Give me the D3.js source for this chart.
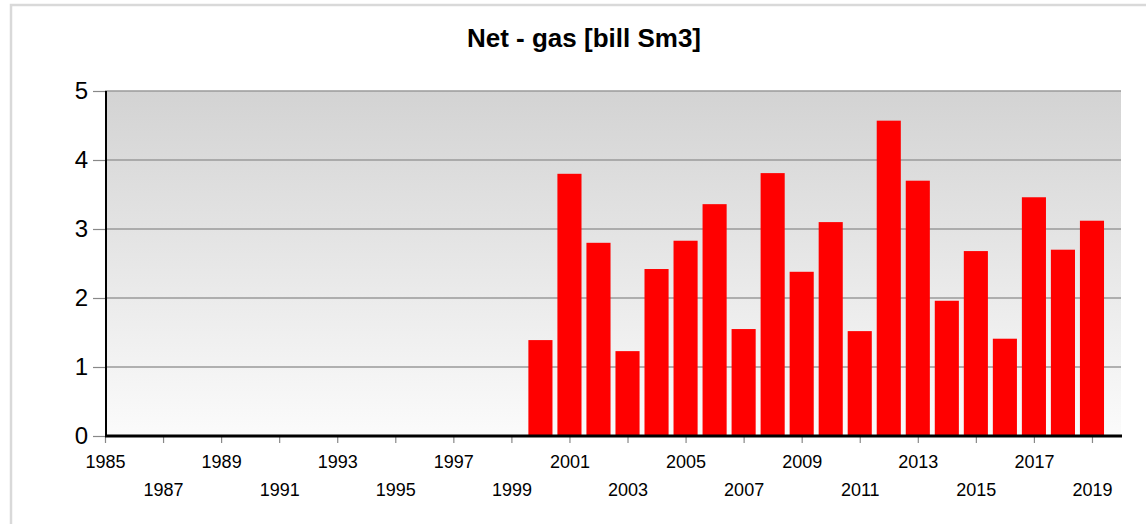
<!DOCTYPE html>
<html>
<head>
<meta charset="utf-8">
<script src="https://cdn.jsdelivr.net/npm/d3@7"></script>
<style>
  html, body { margin: 0; padding: 0; background: #fff; }
  svg { display: block; font-family: Arial, "Liberation Sans", sans-serif; }
</style>
</head>
<body>
<div id="chart"></div>
<script>
document.addEventListener('DOMContentLoaded', () => {
  const years = [2000, 2001, 2002, 2003, 2004, 2005, 2006, 2007, 2008, 2009,
                 2010, 2011, 2012, 2013, 2014, 2015, 2016, 2017, 2018, 2019];
  const netGas = [1.39, 3.80, 2.80, 1.23, 2.42, 2.83, 3.36, 1.55, 3.81, 2.38,
                  3.10, 1.52, 4.57, 3.70, 1.96, 2.68, 1.41, 3.46, 2.70, 3.12];
  const yTicks = [0, 1, 2, 3, 4, 5];
  const xTicks = d3.range(1985, 2020, 2);

  const width = 1146, height = 524;
  const left = 105, right = 1121, top = 91, bottom = 436;

  const svg = d3.select('#chart').append('svg')
    .attr('width', width).attr('height', height);

  // outer frame (only top/left visible)
  svg.append('path')
    .attr('d', `M11,${height} V5 H${width}`)
    .attr('fill', 'none').attr('stroke', '#d9d9d9').attr('stroke-width', 2.5);

  const grad = svg.append('defs').append('linearGradient')
    .attr('id', 'bg').attr('x1', 0).attr('y1', 0).attr('x2', 0).attr('y2', 1);
  grad.append('stop').attr('offset', '0%').attr('stop-color', '#d3d3d3');
  grad.append('stop').attr('offset', '100%').attr('stop-color', '#fbfbfb');

  const x = d3.scaleLinear().domain([1985, 2020]).range([left, right]);
  const y = d3.scaleLinear().domain([0, 5]).range([bottom, top]);
  const step = x(1986) - x(1985);
  const barW = step * 0.83;

  svg.append('rect')
    .attr('x', left).attr('y', top)
    .attr('width', right - left).attr('height', bottom - top)
    .attr('fill', 'url(#bg)');

  // gridlines
  svg.append('g').selectAll('line')
    .data(yTicks.filter(d => d > 0))
    .enter().append('line')
    .attr('x1', left).attr('x2', right)
    .attr('y1', d => y(d)).attr('y2', d => y(d))
    .attr('stroke', '#9a9a9a').attr('stroke-width', 1.5);

  // bars
  svg.append('g').selectAll('rect')
    .data(years.map((yr, i) => ({ yr, v: netGas[i] })))
    .enter().append('rect')
    .attr('x', d => x(d.yr) - barW / 2)
    .attr('y', d => y(d.v))
    .attr('width', barW)
    .attr('height', d => y(0) - y(d.v))
    .attr('fill', '#ff0000');

  // y axis
  const yAxis = svg.append('g')
    .attr('transform', `translate(${left},0)`)
    .call(d3.axisLeft(y).tickValues(yTicks).tickSize(12).tickPadding(5).tickFormat(d3.format('d')));
  yAxis.select('.domain').remove();
  yAxis.selectAll('.tick line').attr('stroke', '#888').attr('stroke-width', 1.2);
  yAxis.selectAll('.tick text')
    .style('font-size', '24px').style('font-family', 'Arial, "Liberation Sans", sans-serif')
    .attr('fill', '#000');

  // x axis
  const xAxis = svg.append('g')
    .attr('transform', `translate(0,${bottom})`)
    .call(d3.axisBottom(x).tickValues(xTicks).tickSize(7).tickFormat(d3.format('d')));
  xAxis.select('.domain').remove();
  xAxis.selectAll('.tick line').attr('stroke', '#888').attr('stroke-width', 1.2);
  xAxis.selectAll('.tick text')
    .style('font-size', '18px').style('font-family', 'Arial, "Liberation Sans", sans-serif')
    .attr('fill', '#000')
    .attr('dy', null)
    .attr('y', (d, i) => i % 2 === 0 ? 32 : 60);

  // axis lines
  svg.append('line')
    .attr('x1', left + 1).attr('x2', left + 1).attr('y1', top).attr('y2', bottom)
    .attr('stroke', '#000').attr('stroke-width', 2);
  svg.append('line')
    .attr('x1', left).attr('x2', right + 1).attr('y1', bottom).attr('y2', bottom)
    .attr('stroke', '#000').attr('stroke-width', 3);

  // title
  svg.append('text')
    .attr('x', 584).attr('y', 47)
    .attr('text-anchor', 'middle')
    .style('font-size', '26px').style('font-weight', 'bold')
    .text('Net - gas [bill Sm3]');
});
</script>
</body>
</html>
